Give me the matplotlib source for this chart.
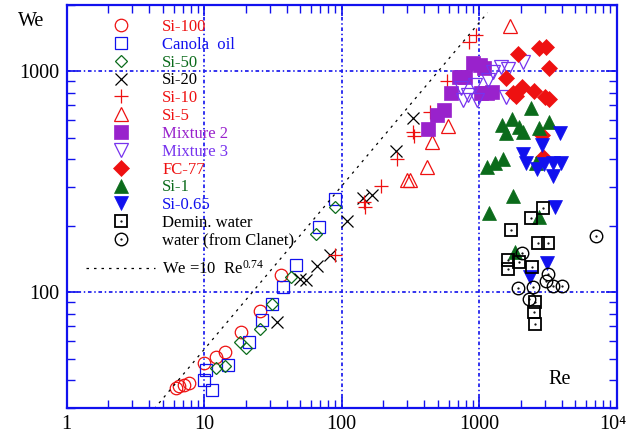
import numpy as np
import matplotlib
matplotlib.use("Agg")
import matplotlib.pyplot as plt
import matplotlib.transforms as mtransforms
from matplotlib.legend_handler import HandlerTuple
from matplotlib.ticker import NullFormatter, LogLocator

plt.rcParams["font.family"] = ["Liberation Serif", "DejaVu Serif"]
plt.rcParams["mathtext.fontset"] = "custom"
plt.rcParams["mathtext.rm"] = "Liberation Serif"
plt.rcParams["mathtext.it"] = "Liberation Serif:italic"

# Re, We values
si100_re = [6.2, 6.6, 7.2, 7.8, 10.0, 12.3, 14.3, 18.7, 25.5, 36.0]
si100_we = [36.8, 37.4, 38.1, 38.6, 48.0, 51.1, 53.3, 65.9, 82.3, 119.4]

canola_re = [10.26, 10.0, 11.45, 14.9, 21.2, 26.5, 31.0, 37.6, 46.5, 68.7, 89.4]
canola_we = [44.2, 39.8, 36.1, 46.7, 59.2, 74.4, 88.3, 105.9, 132.5, 196.9, 265.2]

si50_re = [12.2, 14.3, 18.2, 20.1, 25.3, 31.1, 42.6, 65.0, 88.9]
si50_we = [45.4, 46.5, 59.3, 55.6, 68.4, 88.5, 117.0, 183.0, 242.0]

si20_re = [33.7, 49.7, 54.7, 65.8, 82.2, 109.9, 142.2, 165.3, 250.3, 332.7]
si20_we = [73.4, 115.1, 113.0, 130.6, 147.4, 210.0, 267.0, 275.6, 435.9, 611.6]

si10_re = [89.4, 145.3, 147.7, 193.0, 253.6, 332.7, 335.7, 438.7, 583.4, 843.0, 955.0]
si10_we = [147.4, 257.0, 242.5, 302.7, 401.0, 531.0, 509.6, 654.0, 903.0, 1361.0, 1452.0]

si5_re = [301.0, 316.5, 417.0, 457.5, 596.0, 1675.0]
si5_we = [321.3, 321.3, 370.0, 476.0, 565.6, 1603.0]

mix2_re = [426.5, 493.0, 559.5, 623.7, 713.0, 788.0, 906.0, 1014.0, 1093.0, 1030.0, 1140.0, 1239.0]
mix2_we = [548.0, 634.0, 668.0, 794.0, 942.0, 942.0, 1090.0, 1068.0, 1030.0, 798.0, 798.0, 806.0]

mix3_re = [737.0, 758.6, 833.0, 959.0, 932.0, 1165.0, 1267.0, 1433.0, 1628.0, 1566.0, 2093.0]
mix3_we = [837.0, 741.0, 781.0, 741.0, 867.0, 914.0, 995.0, 1049.0, 1024.0, 768.0, 1105.0]

fc77_re = [1924.0, 2736.0, 3061.0, 3236.0, 1566.0, 1753.0, 1853.0, 2038.0, 2504.0, 3011.0, 3236.0, 2849.0, 2925.0]
fc77_we = [1194.0, 1271.0, 1292.0, 1038.0, 935.0, 800.0, 773.0, 847.0, 817.0, 767.0, 750.0, 515.0, 411.0]

si1_re = [2381.0, 1723.0, 1458.0, 1566.0, 1957.0, 2072.0, 2736.0, 3236.0, 1145.0, 1303.0, 1483.0,
          1753.0, 1184.0, 2589.0, 2736.0, 1820.0]
si1_we = [680.0, 607.0, 571.0, 524.0, 561.0, 533.0, 552.0, 591.0, 370.0, 383.0, 400.0,
          271.0, 227.0, 386.0, 218.0, 152.6]

si065_re = [3870.0, 2849.0, 2093.0, 2188.0, 2620.0, 2974.0, 3458.0, 3937.0, 3424.0, 3560.0, 3097.0, 2343.0]
si065_we = [524.0, 464.0, 422.0, 383.0, 360.0, 381.0, 383.0, 383.0, 336.0, 244.0, 135.0, 117.6]

demin_re = [2925.0, 2381.0, 1703.0, 2662.0, 3149.0, 1611.0, 1611.0, 1957.0, 2433.0, 2545.0, 2515.0, 2545.0]
demin_we = [240.9, 216.3, 191.4, 166.9, 166.9, 140.0, 127.4, 137.5, 129.7, 90.1, 80.9, 71.7]

clanet_re = [2057.0, 3183.0, 3046.0, 3458.0, 4021.0, 1924.0, 2449.0, 2302.0, 7069.0]
clanet_we = [150.2, 120.6, 112.5, 107.1, 107.1, 104.9, 106.0, 93.3, 179.8]

x_ticks = [1, 10, 100, 1000, 10000]
x_ticklabels = ["1", "10", "100", "1000", "10\u2074"]
y_ticks = [100, 1000]
y_ticklabels = ["100", "1000"]

fit_re = np.logspace(np.log10(4.0), np.log10(1150.0), 100)
fit_we = 10 * fit_re ** 0.74

RED = "#ee1111"
BLUE = "#1111ee"
GREEN = "#0b6b1b"
PURPLE = "#9922cc"
VIOLET = "#7733ee"
GRIDBLUE = "#2222ee"

fig = plt.figure(figsize=(6.34, 4.32), dpi=100)
ax = fig.add_axes([0.105, 0.0565, 0.8677, 0.9325])
ax.set_xscale("log")
ax.set_yscale("log")
ax.set_xlim(1, 1e4)
ax.set_ylim(30, 2000)

ax.grid(True, which="major", color=GRIDBLUE, linestyle=(0, (2, 1.5, 0.8, 1.5)), lw=1.3)
ax.set_axisbelow(True)

series = [
    (si100_re, si100_we, "Si-100", dict(marker="o", mfc="none", mec=RED, ms=9, mew=0.9), RED),
    (canola_re, canola_we, "Canola  oil", dict(marker="s", mfc="none", mec=BLUE, ms=9, mew=0.9), BLUE),
    (si50_re, si50_we, "Si-50", dict(marker="D", mfc="none", mec=GREEN, ms=6.5, mew=0.9), GREEN),
    (si20_re, si20_we, "Si-20", dict(marker="x", mec="black", ms=9, mew=0.9), "black"),
    (si10_re, si10_we, "Si-10", dict(marker="+", mec=RED, ms=10, mew=0.9), RED),
    (si5_re, si5_we, "Si-5", dict(marker="^", mfc="none", mec=RED, ms=10, mew=0.9), RED),
    (mix2_re, mix2_we, "Mixture 2", dict(marker="s", mfc=PURPLE, mec=PURPLE, ms=9.5, mew=0.5), PURPLE),
    (mix3_re, mix3_we, "Mixture 3", dict(marker="v", mfc="none", mec=VIOLET, ms=10, mew=0.9), VIOLET),
    (fc77_re, fc77_we, "FC-77", dict(marker="D", mfc=RED, mec=RED, ms=8, mew=0.5), RED),
    (si1_re, si1_we, "Si-1", dict(marker="^", mfc=GREEN, mec=GREEN, ms=10, mew=0.5), GREEN),
    (si065_re, si065_we, "Si-0.65", dict(marker="v", mfc=BLUE, mec=BLUE, ms=10, mew=0.5), BLUE),
]

handles = []
labels = []
colors = []
for re_vals, we_vals, name, style, col in series:
    h, = ax.plot(re_vals, we_vals, linestyle="none", **style)
    handles.append(h)
    labels.append(name)
    colors.append(col)

# water data: open markers with a small dot in the middle
sq, = ax.plot(demin_re, demin_we, linestyle="none", marker="s", mfc="none", mec="black", ms=9, mew=1.3)
sqd, = ax.plot(demin_re, demin_we, linestyle="none", marker=".", color="black", ms=1.2)
ci, = ax.plot(clanet_re, clanet_we, linestyle="none", marker="o", mfc="none", mec="black", ms=9, mew=1.0)
cid, = ax.plot(clanet_re, clanet_we, linestyle="none", marker=".", color="black", ms=1.2)
handles += [(sq, sqd), (ci, cid)]
labels += ["Demin. water", "water (from Clanet)"]
colors += ["black", "black"]

fit, = ax.plot(fit_re, fit_we, color="black", linestyle=(0, (2, 4)), lw=0.9)

leg = ax.legend(handles, labels, loc="upper left", bbox_to_anchor=(0.036, 0.965),
                frameon=False, fontsize=12, labelspacing=0.11, handlelength=4.1,
                handletextpad=0.45, borderpad=0, borderaxespad=0,
                handler_map={tuple: HandlerTuple(ndivide=1)})
for txt, col in zip(leg.get_texts(), colors):
    txt.set_color(col)
ax.add_artist(leg)

leg2 = ax.legend([fit], ["We =10  Re$^{0.74}$"], loc="upper left", bbox_to_anchor=(0.036, 0.366),
                 frameon=False, fontsize=12, handlelength=4.1, handletextpad=0.45,
                 borderpad=0, borderaxespad=0)

ax.set_xticks(x_ticks, x_ticklabels)
ax.set_yticks(y_ticks, y_ticklabels)
ax.xaxis.set_minor_locator(LogLocator(base=10, subs=np.arange(2, 10)))
ax.yaxis.set_minor_locator(LogLocator(base=10, subs=np.arange(2, 10)))
ax.xaxis.set_minor_formatter(NullFormatter())
ax.yaxis.set_minor_formatter(NullFormatter())
ax.tick_params(which="both", direction="in", top=True, right=True, color=BLUE,
               labelcolor="black", labelsize=14.5)
ax.tick_params(which="major", length=8, width=1.2, pad=5)
ax.tick_params(which="minor", length=6, width=1.0)

# keep the last x label inside the canvas
last = ax.get_xticklabels()[-1]
last.set_transform(last.get_transform() + mtransforms.ScaledTranslation(-4 / 100, 0, fig.dpi_scale_trans))

for sp in ax.spines.values():
    sp.set_color(BLUE)
    sp.set_linewidth(1.6)

fig.text(31 / 634, 1 - 22 / 432, "We", fontsize=14.5, ha="center", va="center")
fig.text(560 / 634, 1 - 379 / 432, "Re", fontsize=14.5, ha="center", va="center")

fig.savefig("out.png", dpi=100)
